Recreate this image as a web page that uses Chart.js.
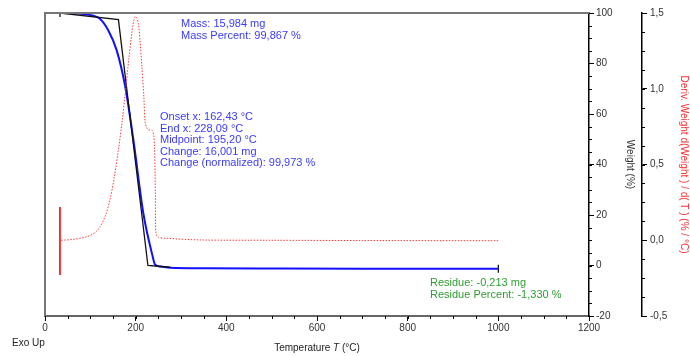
<!DOCTYPE html>
<html>
<head>
<meta charset="utf-8">
<script src="https://cdn.jsdelivr.net/npm/chart.js@4.4.1/dist/chart.umd.min.js"></script>
<style>
  html, body { margin: 0; padding: 0; background: #fff; }
  #wrap { width: 690px; height: 356px; }
</style>
</head>
<body>
<div id="wrap"><canvas id="tga"></canvas></div>
<script>
// TGA weight curve (°C, %)
const weightT = [33, 60, 85, 105, 121, 140, 158, 177, 195, 217, 236, 243, 255, 276, 350, 500, 700, 1000];
const weightP = [100, 99.9, 99.6, 99.0, 97.7, 93, 85.3, 70.8, 49.7, 20.6, 4.7, 0.3, -0.4, -0.9, -1.1, -1.2, -1.3, -1.33];

// onset / endset tangent construction
const tangentT = [33, 162, 227, 276];
const tangentP = [100, 97.4, 0, -0.7];

// derivative curve (°C, %/°C)
const derivT = [36, 60, 92, 110, 121.5, 133, 143.6, 153, 162, 170, 177, 185, 191.6, 196, 199, 202, 206, 210, 213.7, 218, 221, 225, 228, 238, 241.5, 243.5, 244.6, 250, 269, 342, 500, 700, 1000];
const derivD = [0.0, 0.005, 0.023, 0.05, 0.09, 0.16, 0.27, 0.42, 0.60, 0.78, 0.97, 1.2, 1.37, 1.45, 1.476, 1.47, 1.43, 1.3, 1.146, 0.95, 0.774, 0.74, 0.73, 0.72, 0.60, 0.3, 0.048, 0.02, 0.013, 0.002, 0.0, -0.002, -0.003];

// start-up noise at the first point
const spikeT = [33, 33, 33, 33, 33, 33];
const spikeD = [0.22, -0.23, 0.18, -0.2, 0.1, 0.0];

// end markers of the weight curve
const markT = [33, 1000];
const markP = [100, -1.33];

const xTicks = [0, 200, 400, 600, 800, 1000, 1200];

const toXY = (xs, ys) => xs.map((x, i) => ({ x: x, y: ys[i] }));
const comma = v => v.toFixed(1).replace('.', ',');
const FONT = '"Liberation Sans", Arial, sans-serif';

// minor ticks, frame, axis titles and annotation text
const extras = {
    id: 'extras',
    afterDraw(chart) {
        const c = chart.ctx;
        const a = chart.chartArea;
        const sx = chart.scales.x, sy = chart.scales.y, sd = chart.scales.y2;
        c.save();
        c.strokeStyle = '#000';
        c.lineWidth = 1;
        c.beginPath();
        for (let v = 0; v <= 1200; v += 50) {
            const px = Math.round(sx.getPixelForValue(v)) + 0.5;
            c.moveTo(px, a.bottom); c.lineTo(px, a.bottom + 3);
        }
        for (let v = -20; v <= 100; v += 5) {
            const py = Math.round(sy.getPixelForValue(v)) + 0.5;
            c.moveTo(sy.left, py); c.lineTo(sy.left + 3, py);
        }
        for (let v = -0.5; v <= 1.5001; v += 0.125) {
            const py = Math.round(sd.getPixelForValue(v)) + 0.5;
            c.moveTo(sd.left, py); c.lineTo(sd.left + 3, py);
        }
        c.stroke();

        // gray frame top / left
        c.strokeStyle = '#777';
        c.lineWidth = 2;
        c.beginPath();
        c.moveTo(a.left, a.bottom); c.lineTo(a.left, a.top); c.lineTo(a.right, a.top);
        c.stroke();

        c.font = '11px ' + FONT;
        c.textBaseline = 'middle';
        c.fillStyle = '#3a3aff';
        c.fillText('Mass: 15,984 mg', 181, 24);
        c.fillText('Mass Percent: 99,867 %', 181, 36);
        const lines = ['Onset x: 162,43 °C', 'End x: 228,09 °C', 'Midpoint: 195,20 °C',
                       'Change: 16,001 mg', 'Change (normalized): 99,973 %'];
        lines.forEach((t, i) => c.fillText(t, 160, 117 + i * 11.6));
        c.fillStyle = '#2e9e2e';
        c.fillText('Residue: -0,213 mg', 430, 283);
        c.fillText('Residue Percent: -1,330 %', 430, 295);

        c.fillStyle = '#222';
        c.font = '10px ' + FONT;
        c.fillText('Exo Up', 12, 343);

        // x title with italic T
        const mid = (a.left + a.right) / 2;
        const p1 = 'Temperature ', p2 = 'T', p3 = ' (°C)';
        c.font = '10px ' + FONT;
        const w1 = c.measureText(p1).width, w3 = c.measureText(p3).width;
        c.font = 'italic 10px ' + FONT;
        const w2 = c.measureText(p2).width;
        let x0 = mid - (w1 + w2 + w3) / 2;
        c.font = '10px ' + FONT;
        c.fillText(p1, x0, 348);
        c.font = 'italic 10px ' + FONT;
        c.fillText(p2, x0 + w1, 348);
        c.font = '10px ' + FONT;
        c.fillText(p3, x0 + w1 + w2, 348);

        // right axis titles, rotated clockwise
        const midY = (a.top + a.bottom) / 2;
        c.textAlign = 'center';
        c.save();
        c.translate(630, midY);
        c.rotate(Math.PI / 2);
        c.fillStyle = '#333';
        c.fillText('Weight (%)', 0, 0);
        c.restore();
        c.save();
        c.translate(684, midY);
        c.rotate(Math.PI / 2);
        c.fillStyle = '#ff3030';
        c.fillText('Deriv. Weight d(Weight ) / d( T ) (% / °C)', 0, 0);
        c.restore();
        c.restore();
    }
};

new Chart(document.getElementById('tga'), {
    type: 'scatter',
    data: {
        datasets: [
            {
                data: toXY(derivT, derivD),
                yAxisID: 'y2',
                showLine: true,
                borderColor: '#ff3a3a',
                borderWidth: 1,
                borderDash: [1.5, 1.5],
                pointRadius: 0,
                tension: 0.3
            },
            {
                data: toXY(spikeT, spikeD),
                yAxisID: 'y2',
                showLine: true,
                borderColor: '#ff0000',
                borderWidth: 1.6,
                pointRadius: 0,
                tension: 0
            },
            {
                data: toXY(tangentT, tangentP),
                yAxisID: 'y',
                showLine: true,
                borderColor: '#111',
                borderWidth: 1.3,
                pointRadius: 0,
                tension: 0
            },
            {
                data: toXY(weightT, weightP),
                yAxisID: 'y',
                showLine: true,
                borderColor: '#1010ff',
                borderWidth: 2,
                pointRadius: 0,
                cubicInterpolationMode: 'monotone'
            },
            {
                data: toXY(markT, markP),
                yAxisID: 'y',
                showLine: false,
                pointStyle: 'line',
                rotation: 90,
                radius: 4,
                borderColor: '#000',
                borderWidth: 1.2
            }
        ]
    },
    options: {
        responsive: true,
        maintainAspectRatio: false,
        animation: false,
        layout: { padding: { left: 45, top: 13, right: 0, bottom: 0 } },
        plugins: {
            legend: { display: false },
            tooltip: { enabled: false }
        },
        scales: {
            x: {
                type: 'linear',
                min: 0,
                max: 1200,
                afterBuildTicks: s => { s.ticks = xTicks.map(v => ({ value: v })); },
                afterFit: s => { s.height = 40; },
                grid: { drawOnChartArea: false, tickLength: 5, color: '#000' },
                border: { color: '#666', width: 2 },
                ticks: { color: '#333', font: { size: 10, family: 'Liberation Sans' }, padding: 1, maxRotation: 0, callback: v => String(v) }
            },
            y: {
                position: 'right',
                weight: 0,
                min: -20,
                max: 100,
                ticks: { stepSize: 20, color: '#333', font: { size: 10, family: 'Liberation Sans' }, padding: 2, callback: v => String(v) },
                afterFit: s => { s.width = 53; },
                grid: { drawOnChartArea: false, tickLength: 5, color: '#000' },
                border: { color: '#000', width: 1.5 }
            },
            y2: {
                position: 'right',
                weight: 1,
                min: -0.5,
                max: 1.5,
                ticks: { stepSize: 0.5, color: '#333', font: { size: 10, family: 'Liberation Sans' }, padding: 3, callback: v => comma(v) },
                afterFit: s => { s.width = 48; },
                grid: { drawOnChartArea: false, tickLength: 5, color: '#000' },
                border: { color: '#000', width: 1.5 }
            }
        }
    },
    plugins: [extras]
});
</script>
</body>
</html>
